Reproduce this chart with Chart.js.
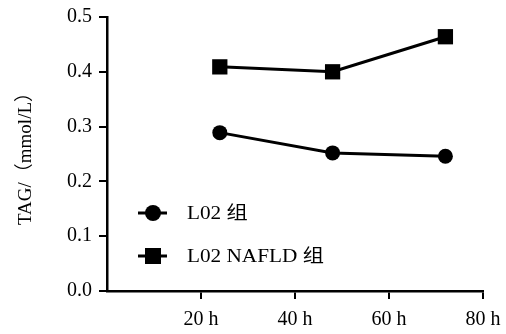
<!DOCTYPE html>
<html>
<head>
<meta charset="utf-8">
<style>
  html, body { margin: 0; padding: 0; background: #fff; }
  #wrap { width: 506px; height: 334px; position: relative; }
</style>
<script src="https://cdn.jsdelivr.net/npm/chart.js@4/dist/chart.umd.min.js"></script>
</head>
<body>
<div id="wrap"><canvas id="c" width="506" height="334"></canvas></div>
<script>
// Sampling times (h) and TAG content (mmol/L) per group
const hours = [24, 48, 72];
const l02Values = [0.289, 0.252, 0.246];
const nafldValues = [0.409, 0.400, 0.464];
const seriesLabels = ['L02 组', 'L02 NAFLD 组'];
const xTickValues = [20, 40, 60, 80];
const yTitle = 'TAG/（mmol/L）';

const serif = "'Liberation Serif', 'Times New Roman', 'Noto Sans CJK SC', serif";

const toPoints = vals => hours.map((h, i) => ({ x: h, y: vals[i] }));

// Legend drawn inside the plot area: a short line through the marker, then the label
const innerLegend = {
  id: 'innerLegend',
  afterDraw(chart) {
    const ctx = chart.ctx;
    const rows = [
      { label: seriesLabels[0], style: 'circle', y: 213 },
      { label: seriesLabels[1], style: 'rect', y: 256 }
    ];
    ctx.save();
    rows.forEach(r => {
      ctx.strokeStyle = '#000';
      ctx.lineWidth = 3;
      ctx.beginPath();
      ctx.moveTo(138, r.y);
      ctx.lineTo(167, r.y);
      ctx.stroke();
      ctx.fillStyle = '#000';
      if (r.style === 'circle') {
        ctx.beginPath();
        ctx.arc(153, r.y, 8, 0, Math.PI * 2);
        ctx.fill();
      } else {
        ctx.fillRect(145, r.y - 8, 16, 16);
      }
      // slightly widened serif lettering
      ctx.save();
      ctx.translate(187, r.y + 1);
      ctx.scale(1.18, 1);
      ctx.font = "18px " + serif;
      ctx.textBaseline = 'middle';
      ctx.textAlign = 'left';
      ctx.fillText(r.label, 0, 0);
      ctx.restore();
    });
    ctx.restore();
  }
};

new Chart(document.getElementById('c'), {
  type: 'line',
  data: {
    datasets: [
      {
        label: seriesLabels[0],
        data: toPoints(l02Values),
        borderColor: '#000',
        backgroundColor: '#000',
        borderWidth: 3,
        pointStyle: 'circle',
        pointRadius: 7.5,
        pointBorderWidth: 0,
        pointBackgroundColor: '#000',
        tension: 0
      },
      {
        label: seriesLabels[1],
        data: toPoints(nafldValues),
        borderColor: '#000',
        backgroundColor: '#000',
        borderWidth: 3,
        pointStyle: 'rect',
        pointRadius: 10.8,
        pointBorderWidth: 0,
        pointBackgroundColor: '#000',
        tension: 0
      }
    ]
  },
  options: {
    responsive: false,
    animation: false,
    layout: { padding: { top: 15, right: 23, left: 0, bottom: 0 } },
    plugins: {
      legend: { display: false },
      tooltip: { enabled: false }
    },
    scales: {
      x: {
        type: 'linear',
        min: 0,
        max: 80,
        afterBuildTicks(scale) {
          scale.ticks = xTickValues.map(v => ({ value: v }));
        },
        afterFit(scale) {
          scale.height = 43;
          scale.paddingRight = 0;
          scale.paddingLeft = 0;
        },
        border: { display: true, color: '#000', width: 2.5 },
        grid: { display: true, drawOnChartArea: false, color: '#000', lineWidth: 2, tickLength: 8 },
        ticks: {
          color: '#000',
          font: { family: serif, size: 20 },
          padding: 9,
          maxRotation: 0,
          callback: v => v + ' h'
        }
      },
      y: {
        type: 'linear',
        min: 0,
        max: 0.5,
        afterFit(scale) { scale.width = 107; },
        border: { display: true, color: '#000', width: 2.5 },
        grid: { display: true, drawOnChartArea: false, color: '#000', lineWidth: 2, tickLength: 8 },
        ticks: {
          stepSize: 0.1,
          color: '#000',
          font: { family: serif, size: 20, lineHeight: 1 },
          padding: 7,
          callback: v => Number(v).toFixed(1)
        },
        title: {
          display: true,
          text: yTitle,
          color: '#000',
          font: { family: serif, size: 19 },
          padding: { top: 15, bottom: 0 }
        }
      }
    }
  },
  plugins: [innerLegend]
});
</script>
</body>
</html>
